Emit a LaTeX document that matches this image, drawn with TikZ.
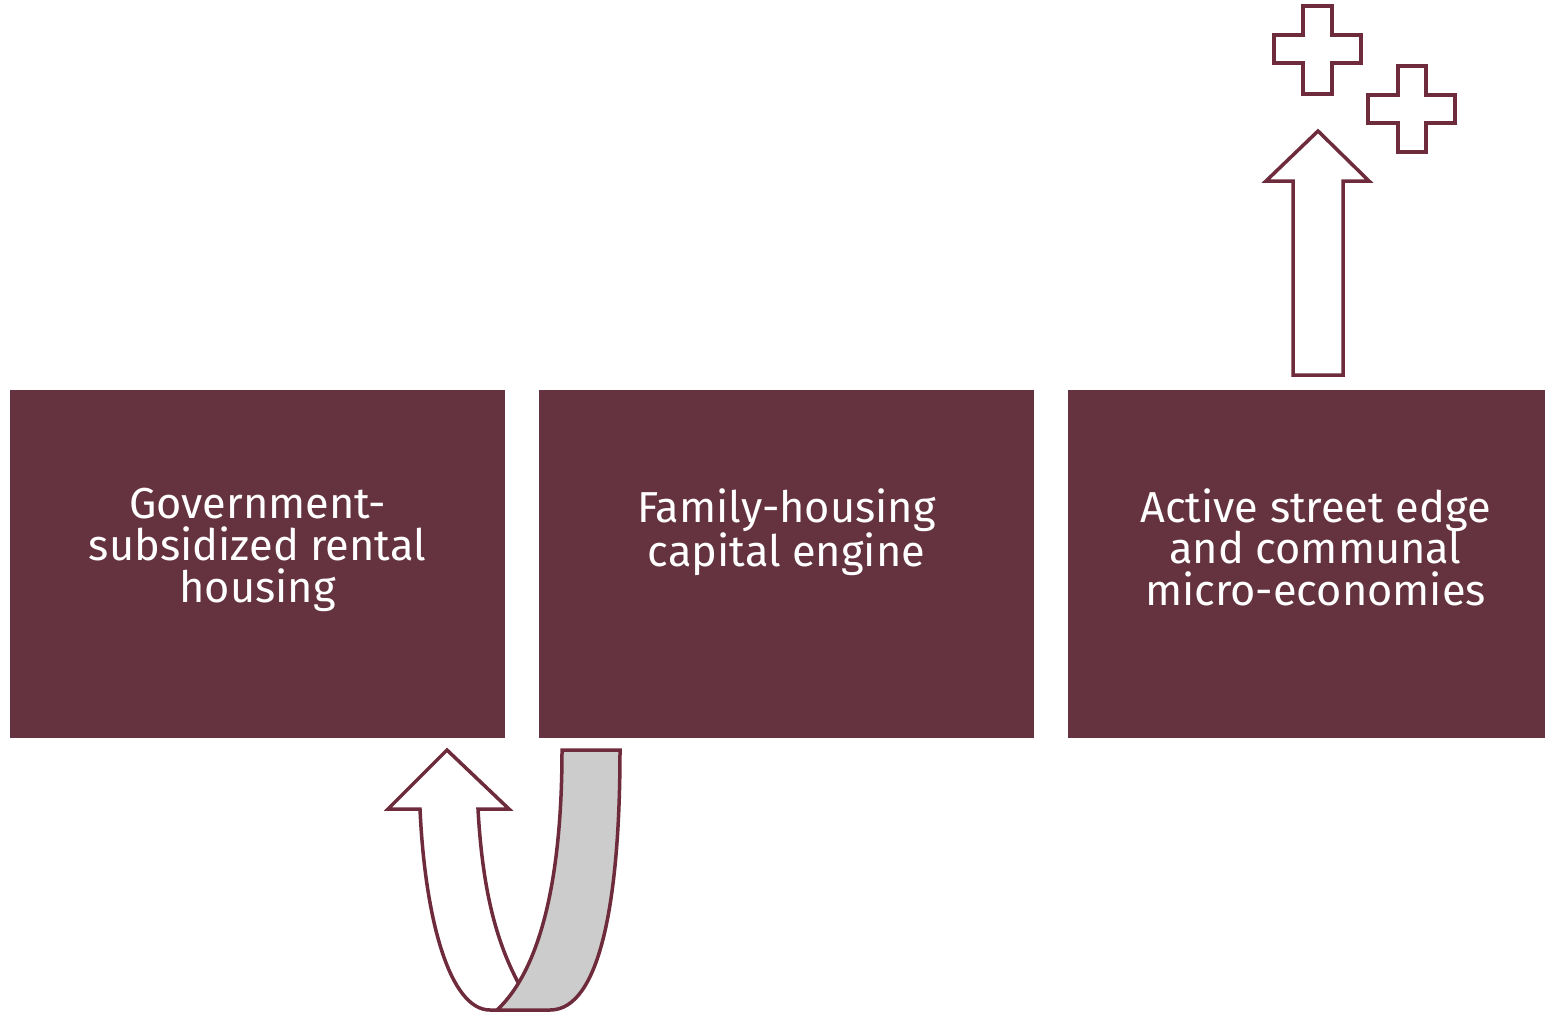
\documentclass[tikz,border=0pt]{standalone}
\usepackage{fontspec}
\setmainfont{Fira Sans}
\usetikzlibrary{positioning}
\definecolor{wine}{HTML}{65323F}
\definecolor{wineline}{HTML}{6E2B3C}
\definecolor{bandgrey}{HTML}{CCCCCC}
\tikzstyle{block} = [rectangle, minimum width=495bp, minimum height=348bp, inner sep=0, fill=wine, draw=none]
\tikzstyle{blocktext} = [anchor=north, inner sep=0, text=white, align=center, font=\fontsize{43.5}{42}\selectfont]
\tikzstyle{outline} = [draw=wineline, line width=3.5bp, line join=miter]

\begin{document}
\begin{tikzpicture}[x=1bp, y=-1bp]
\useasboundingbox (0,0) rectangle (1545,1013);
\clip (0,0) rectangle (1545,1013);

\node (rental) [block] at (257.5,564) {};
\node (family) [block] at (786.5,564) {};
\node (street) [block] at (1315.5,564) {};

\node (rental_txt) [blocktext] at (257.5,488) {Government-\\subsidized rental\\housing};
\node (family_txt) [blocktext] at (786.5,488) {Family-housing\\capital engine};
\node (street_txt) [blocktext] at (1315.5,488) {Active street edge\\and communal\\micro-economies};

% growth arrow and plus signs
\draw [outline, fill=white] (1293,375) -- (1293,181) -- (1266,181) -- (1318,131) -- (1369,181) -- (1343,181) -- (1343,375) -- cycle;
\draw [outline, fill=white] (1303,6) -- (1332,6) -- (1332,35) -- (1361,35) -- (1361,63) -- (1332,63) -- (1332,94) -- (1303,94) -- (1303,63) -- (1274,63) -- (1274,35) -- (1303,35) -- cycle;
\draw [outline, fill=white] (1398,66) -- (1426,66) -- (1426,95) -- (1455,95) -- (1455,123) -- (1426,123) -- (1426,152) -- (1398,152) -- (1398,123) -- (1368,123) -- (1368,95) -- (1398,95) -- cycle;

% u-turn arrow
\draw [outline, fill=white] (420,809) -- (388,809) -- (447,750) -- (509,809) -- (478,809) .. controls (483,900) and (500,960) .. (535,1010) -- (490,1010) .. controls (450,1010) and (425,920) .. (420,809) -- cycle;
\draw [outline, fill=bandgrey] (562,750) -- (620,750) .. controls (620,900) and (600,1010) .. (550,1010) -- (497,1010) .. controls (540,970) and (562,880) .. (562,750) -- cycle;

\end{tikzpicture}
\end{document}
